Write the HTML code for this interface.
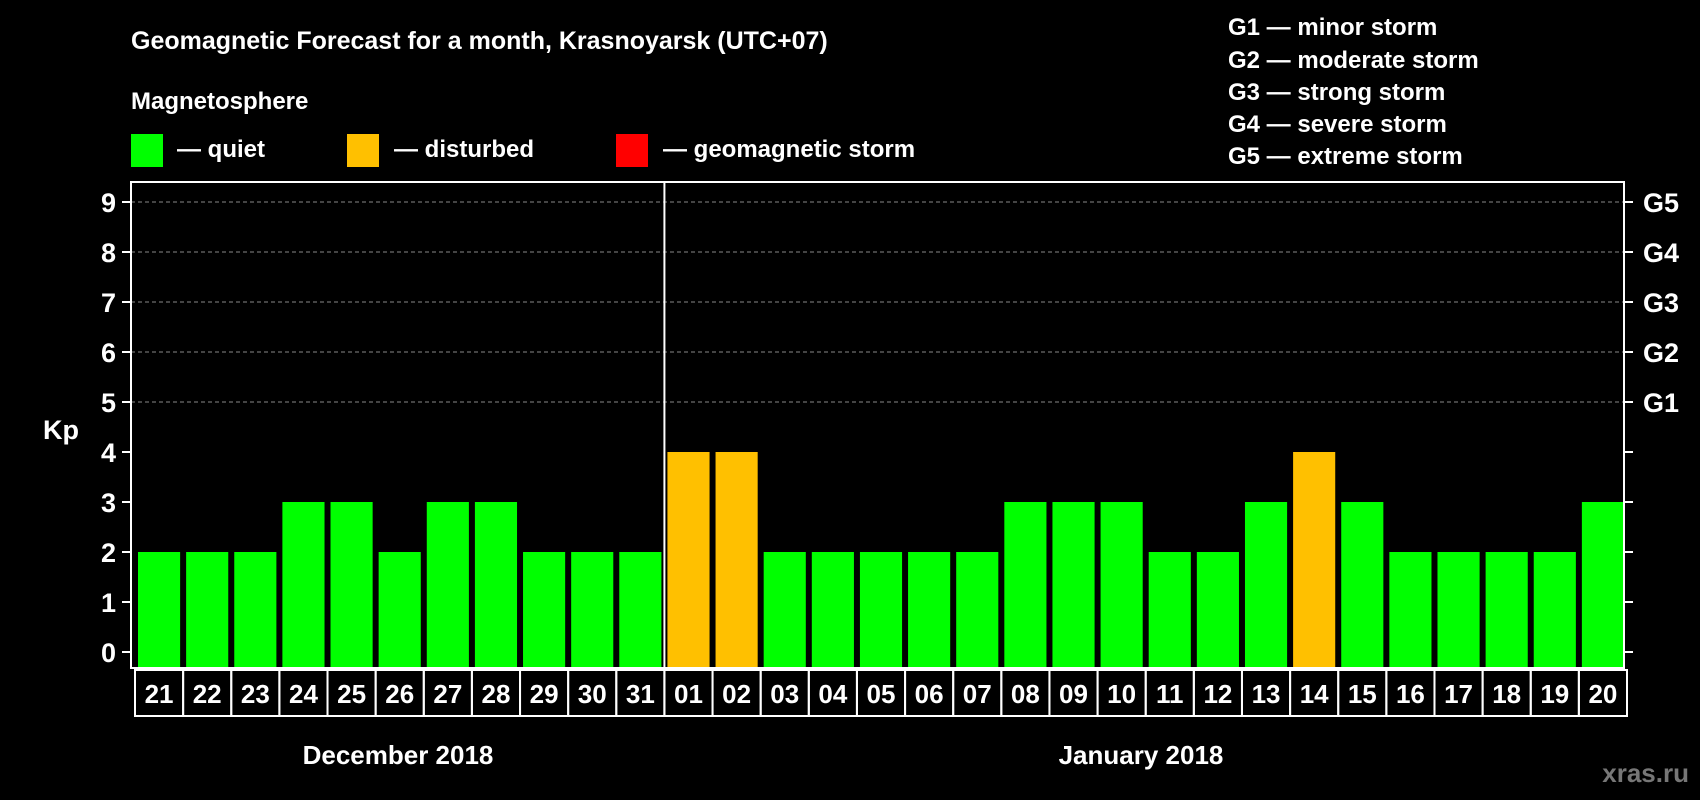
<!DOCTYPE html>
<html><head><meta charset="utf-8"><style>
html,body{margin:0;padding:0;background:#000;}
svg{display:block;font-family:"Liberation Sans",Arial,sans-serif;font-weight:bold;}
</style></head><body>
<svg id="chart" width="1700" height="800" viewBox="0 0 1700 800">
<rect x="0" y="0" width="1700" height="800" fill="#000"/>
<text x="131" y="49" fill="#fff" font-size="25">Geomagnetic Forecast for a month, Krasnoyarsk (UTC+07)</text>
<text x="131" y="109" fill="#fff" font-size="24">Magnetosphere</text>
<g><rect x="131" y="134" width="32" height="33" fill="#00ff00"/><text x="177" y="157" fill="#fff" font-size="24">— quiet</text></g>
<g><rect x="347" y="134" width="32" height="33" fill="#ffc000"/><text x="394" y="157" fill="#fff" font-size="24">— disturbed</text></g>
<g><rect x="616" y="134" width="32" height="33" fill="#ff0000"/><text x="663" y="157" fill="#fff" font-size="24">— geomagnetic storm</text></g>
<g fill="#fff" font-size="24">
<text x="1228" y="35">G1 — minor storm</text>
<text x="1228" y="68">G2 — moderate storm</text>
<text x="1228" y="100">G3 — strong storm</text>
<text x="1228" y="132">G4 — severe storm</text>
<text x="1228" y="164">G5 — extreme storm</text>
</g>
<text x="43" y="439" fill="#fff" font-size="27">Kp</text>
<g id="grid"></g>
<g id="bars"></g>
<g id="axes"></g>
<text x="398" y="764" fill="#fff" font-size="26" text-anchor="middle">December 2018</text>
<text x="1141" y="764" fill="#fff" font-size="26" text-anchor="middle">January 2018</text>
<text x="1689" y="782" fill="#777" font-size="26" text-anchor="end">xras.ru</text>
</svg>
<script>
const days = ["21","22","23","24","25","26","27","28","29","30","31","01","02","03","04","05","06","07","08","09","10","11","12","13","14","15","16","17","18","19","20"];
const kp = [2,2,2,3,3,2,3,3,2,2,2,4,4,2,2,2,2,2,3,3,3,2,2,3,4,3,2,2,2,2,3];
const yTicks = [0,1,2,3,4,5,6,7,8,9];
const gLabels = ["G1","G2","G3","G4","G5"];
const gLevels = [5,6,7,8,9];

const NS="http://www.w3.org/2000/svg";
const L=131,R=1624,T=182,B=668;
const slot=(R-L-1)/days.length;
const x0=L+4;
const y=v=>652-v*50;
function mk(tag,attrs,parent){const e=document.createElementNS(NS,tag);for(const k in attrs)e.setAttribute(k,attrs[k]);parent.appendChild(e);return e;}
const grid=document.getElementById('grid'),bars=document.getElementById('bars'),axes=document.getElementById('axes');
gLevels.forEach(v=>{
  const l=mk('line',{x1:L,x2:R,y1:y(v),y2:y(v),stroke:'#888','stroke-width':1,'stroke-dasharray':'4,3'},grid);
  
  
});
kp.forEach((v,i)=>{
  const c=v>=5?'#ff0000':(v>=4?'#ffc000':'#00ff00');
  const r=mk('rect',{x:x0+i*slot+3,y:y(v),width:slot-6,height:B-y(v),fill:c},bars);
  
  
});
mk('rect',{x:L,y:T,width:R-L,height:B-T,fill:'none',stroke:'#fff','stroke-width':2},axes);
yTicks.forEach(v=>{
  mk('line',{x1:L-9,x2:L,y1:y(v),y2:y(v),stroke:'#fff','stroke-width':2},axes);
  mk('line',{x1:R,x2:R+9,y1:y(v),y2:y(v),stroke:'#fff','stroke-width':2},axes);
  const t=mk('text',{x:L-15,y:y(v)+10,fill:'#fff','font-size':27,'text-anchor':'end'},axes);
  t.textContent=v;
  
  
});
gLabels.forEach((g,i)=>{
  const t=mk('text',{x:1643,y:y(gLevels[i])+10,fill:'#fff','font-size':27},axes);
  t.textContent=g;
  
  
});
days.forEach((d,i)=>{
  const cx=x0+i*slot;
  mk('rect',{x:cx,y:B+2,width:slot,height:46,fill:'none',stroke:'#fff','stroke-width':2},axes);
  const t=mk('text',{x:cx+slot/2,y:B+35,fill:'#fff','font-size':26,'text-anchor':'middle'},axes);
  t.textContent=d;
  
  
});
const sx=x0+11*slot;
const s=mk('line',{x1:sx,x2:sx,y1:T,y2:B+48,stroke:'#fff','stroke-width':2},axes);


</script>
</body></html>
